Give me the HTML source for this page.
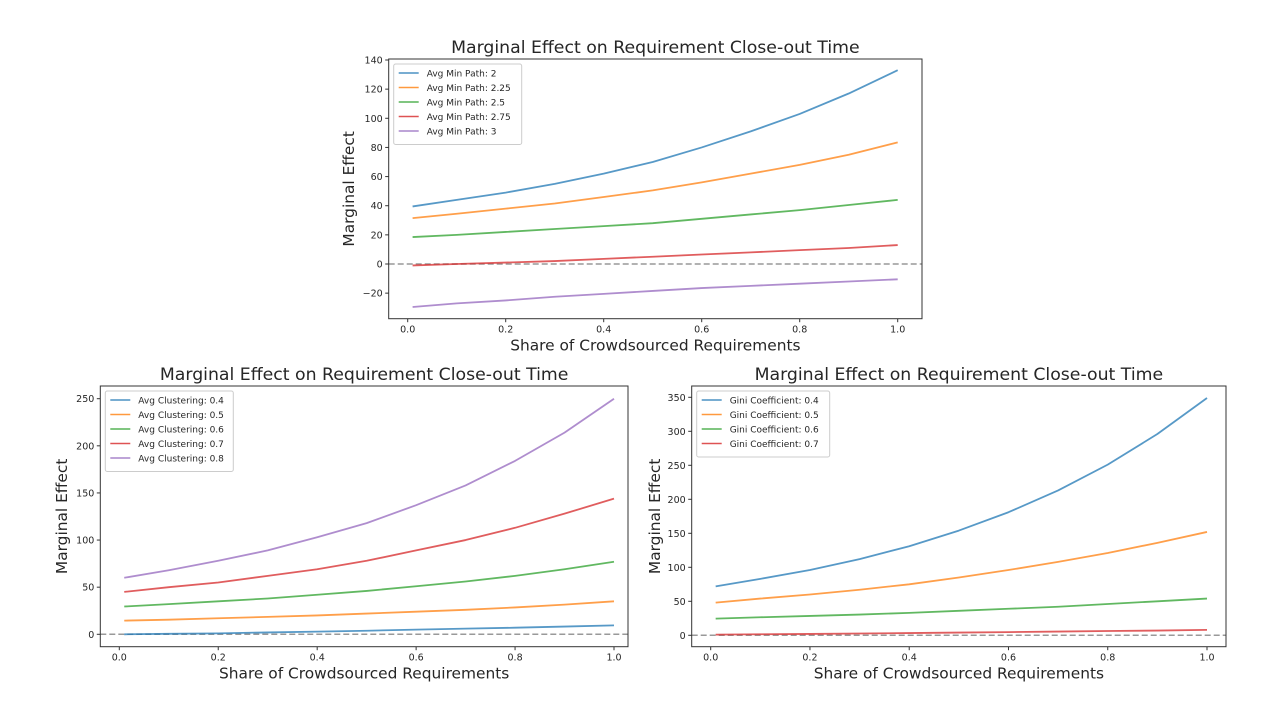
<!DOCTYPE html>
<html><head><meta charset="utf-8"><style>
body{margin:0;background:#fff;}
svg text{font-family:"DejaVu Sans","Liberation Sans",sans-serif;fill:#262626;}
</style></head><body>
<svg id="fig" width="1280" height="720" xmlns="http://www.w3.org/2000/svg"></svg>
<script>
const xs = [0.01,0.1,0.2,0.3,0.4,0.5,0.6,0.7,0.8,0.9,1.0];
const xTicks = [0.0,0.2,0.4,0.6,0.8,1.0];
const colors = ['#1f77b4','#ff7f0e','#2ca02c','#d62728','#9467bd'];

const topLabels = ['Avg Min Path: 2','Avg Min Path: 2.25','Avg Min Path: 2.5','Avg Min Path: 2.75','Avg Min Path: 3'];
const topBlue = [39.5,44,49,55,62,70,80,91,103,117,133];
const topOrange = [31.5,34.5,38,41.5,46,50.5,56,62,68,75,83.5];
const topGreen = [18.5,20,22,24,26,28,31,34,37,40.5,44];
const topRed = [-1,0,1,2,3.5,5,6.5,8,9.5,11,13];
const topPurple = [-29.5,-27,-25,-22.5,-20.5,-18.5,-16.5,-15,-13.5,-12,-10.5];
const topYTicks = [-20,0,20,40,60,80,100,120,140];

const blLabels = ['Avg Clustering: 0.4','Avg Clustering: 0.5','Avg Clustering: 0.6','Avg Clustering: 0.7','Avg Clustering: 0.8'];
const blBlue = [0,0.5,1,2,2.8,3.8,5,6,7,8.2,9.5];
const blOrange = [14.5,15.5,17,18.5,20,22,24,26,28.5,31.5,35];
const blGreen = [29.5,32,35,38,42,46,51,56,62,69,77];
const blRed = [45,50,55,62,69,78,89,100,113,128,144];
const blPurple = [60,68,78,89,103,118,137,158,184,214,250];
const blYTicks = [0,50,100,150,200,250];

const brLabels = ['Gini Coefficient: 0.4','Gini Coefficient: 0.5','Gini Coefficient: 0.6','Gini Coefficient: 0.7'];
const brBlue = [72,83,96,112,131,154,181,213,251,296,349];
const brOrange = [48,54,60,67,75,85,96,108,121,136,152];
const brGreen = [24.5,26.5,28.5,30.5,33,36,39,42,46,50,54];
const brRed = [1,1.5,2,2.7,3.3,4,4.7,5.5,6.3,7,8];
const brYTicks = [0,50,100,150,200,250,300,350];

const NS='http://www.w3.org/2000/svg';
const svg=document.getElementById('fig');
function mk(tag,attrs,parent,text){const e=document.createElementNS(NS,tag);for(const k in attrs)e.setAttribute(k,attrs[k]);if(text!==undefined)e.textContent=text;(parent||svg).appendChild(e);return e;}

function panel(cfg){
  const g=mk('g',{});
  
  
  const sx=v=>cfg.x0+(v-0)*(cfg.x1-cfg.x0);
  const sy=v=>cfg.y0-(v-0)*(cfg.y0-cfg.yTop)/cfg.yTopVal;
  const z=mk('line',{x1:cfg.L,x2:cfg.R,y1:sy(0),y2:sy(0),stroke:'#999','stroke-width':1.5,'stroke-dasharray':'6,3'},g);
  
  
  cfg.series.forEach((s,i)=>{
    const p=mk('polyline',{points:xs.map((x,j)=>sx(x)+','+sy(s[j])).join(' '),fill:'none',stroke:colors[i],'stroke-width':1.8,'stroke-opacity':0.75,'stroke-linejoin':'round'},g);
    
    
  });
  const fr=mk('rect',{x:cfg.L,y:cfg.T,width:cfg.R-cfg.L,height:cfg.B-cfg.T,fill:'none',stroke:'#333','stroke-width':1},g);
  
  
  xTicks.forEach(t=>{
    mk('line',{x1:sx(t),x2:sx(t),y1:cfg.B,y2:cfg.B+3.5,stroke:'#333'},g);
    const tx=mk('text',{x:sx(t),y:cfg.B+14,'font-size':9.5,'text-anchor':'middle'},g,t.toFixed(1));
    
    
  });
  cfg.yTicks.forEach(t=>{
    mk('line',{x1:cfg.L-3.5,x2:cfg.L,y1:sy(t),y2:sy(t),stroke:'#333'},g);
    const tx=mk('text',{x:cfg.L-6,y:sy(t)+3.5,'font-size':9.5,'text-anchor':'end'},g,(t<0?'\u2212'+(-t):t));
    
    
  });
  const ti=mk('text',{x:(cfg.L+cfg.R)/2,y:cfg.T-6,'font-size':17.3,'text-anchor':'middle'},g,'Marginal Effect on Requirement Close-out Time');
  
  
  const xl=mk('text',{x:(cfg.L+cfg.R)/2,y:cfg.B+32,'font-size':15.4,'text-anchor':'middle'},g,'Share of Crowdsourced Requirements');
  
  
  const yc=(cfg.T+cfg.B)/2;
  const yl=mk('text',{x:cfg.ylx,y:yc,'font-size':15.4,'text-anchor':'middle',transform:'rotate(-90 '+cfg.ylx+' '+yc+')'},g,'Marginal Effect');
  
  
  const lg=mk('g',{},g);
  
  
  const n=cfg.labels.length;
  mk('rect',{x:cfg.L+5,y:cfg.T+5,width:cfg.legW,height:n*14.5+8,fill:'#fff',stroke:'#ccc',rx:2},lg);
  cfg.labels.forEach((lab,i)=>{
    const yy=cfg.T+14+i*14.5;
    const e=mk('g',{},lg);
    
    
    mk('line',{x1:cfg.L+10,x2:cfg.L+30,y1:yy,y2:yy,stroke:colors[i],'stroke-width':1.6,'stroke-opacity':0.8},e);
    mk('text',{x:cfg.L+38,y:yy+3.3,'font-size':9},e,lab);
  });
}

panel({name:'top-chart',L:388.7,R:922,T:59,B:318.7,x0:407.7,x1:897.7,y0:264,yTop:60,yTopVal:140,
  series:[topBlue,topOrange,topGreen,topRed,topPurple],labels:topLabels,yTicks:topYTicks,ylx:354,legW:128});
panel({name:'bottom-left-chart',L:100.3,R:628,T:386,B:646.7,x0:119.3,x1:614,y0:634.3,yTop:398.7,yTopVal:250,
  series:[blBlue,blOrange,blGreen,blRed,blPurple],labels:blLabels,yTicks:blYTicks,ylx:67,legW:128});
panel({name:'bottom-right-chart',L:691.7,R:1226,T:386,B:646.7,x0:710.7,x1:1207,y0:635.3,yTop:397.3,yTopVal:350,
  series:[brBlue,brOrange,brGreen,brRed],labels:brLabels,yTicks:brYTicks,ylx:660,legW:133});
</script>
</body></html>
